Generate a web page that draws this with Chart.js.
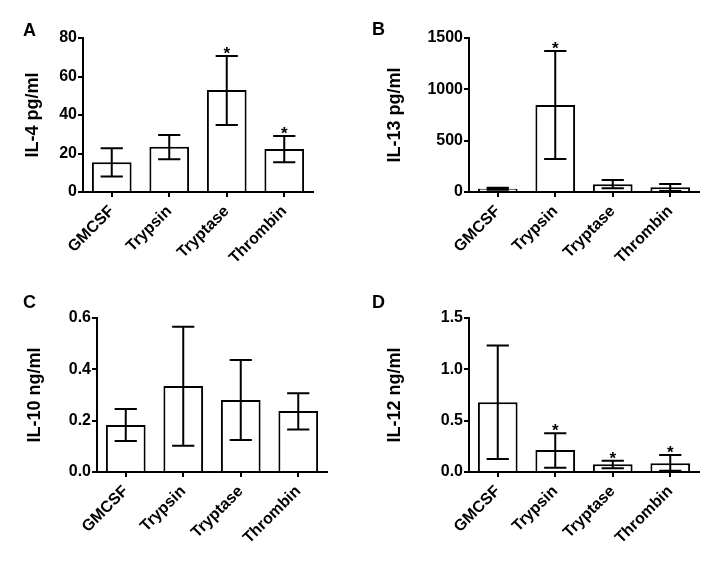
<!DOCTYPE html>
<html>
<head>
<meta charset="utf-8">
<script src="https://cdn.jsdelivr.net/npm/chart.js@4/dist/chart.umd.min.js"></script>
<style>
  html, body { margin: 0; padding: 0; background: #fff; }
  #wrap { position: relative; width: 718px; height: 567px; overflow: hidden; }
  #wrap canvas { position: absolute; }
  .tag { position: absolute; font: bold 18px "Liberation Sans", Arial, sans-serif; line-height: 18px; color: #000; }
</style>
</head>
<body>
<div id="wrap">
  <canvas id="chartA" width="359" height="283" style="left:0;top:0"></canvas>
  <canvas id="chartB" width="359" height="283" style="left:359px;top:0"></canvas>
  <canvas id="chartC" width="359" height="284" style="left:0;top:283px"></canvas>
  <canvas id="chartD" width="359" height="284" style="left:359px;top:283px"></canvas>
  <div class="tag" style="left:23px;top:21px">A</div>
  <div class="tag" style="left:372px;top:20px">B</div>
  <div class="tag" style="left:23px;top:293px">C</div>
  <div class="tag" style="left:372px;top:293px">D</div>
</div>
<script>
// data (mean, upper / lower error bar ends, significance)
const categories = ['GMCSF', 'Trypsin', 'Tryptase', 'Thrombin'];

const il4Mean  = [15.4, 23.5, 53.0, 22.3];
const il4Upper = [22.7, 29.6, 70.6, 29.1];
const il4Lower = [8.0, 17.0, 34.8, 15.4];
const il4Star  = [false, false, true, true];
const il4Ticks = [0, 20, 40, 60, 80];

const il13Mean  = [32, 847, 75, 46];
const il13Upper = [42, 1373, 117, 78];
const il13Lower = [22, 321, 36, 10];
const il13Star  = [false, true, false, false];
const il13Ticks = [0, 500, 1000, 1500];

const il10Mean  = [0.183, 0.335, 0.281, 0.238];
const il10Upper = [0.245, 0.566, 0.436, 0.307];
const il10Lower = [0.121, 0.102, 0.125, 0.166];
const il10Star  = [false, false, false, false];
const il10Ticks = [0, 0.2, 0.4, 0.6];

const il12Mean  = [0.679, 0.214, 0.075, 0.085];
const il12Upper = [1.233, 0.377, 0.110, 0.166];
const il12Lower = [0.127, 0.042, 0.036, 0.013];
const il12Star  = [false, true, true, true];
const il12Ticks = [0, 0.5, 1.0, 1.5];

const FONT = '"Liberation Sans", Arial, sans-serif';
Chart.defaults.font.family = FONT;
Chart.defaults.font.weight = 'bold';
Chart.defaults.color = '#000';

// error bars + asterisks on top of the bars
const errorBars = {
    id: 'errorBars',
    afterDatasetsDraw(chart, args, opts) {
        const ctx = chart.ctx;
        const x = chart.scales.x, y = chart.scales.y;
        const meta = chart.getDatasetMeta(0);
        ctx.save();
        ctx.strokeStyle = '#000';
        ctx.lineWidth = 2;
        meta.data.forEach((bar, i) => {
            const cx = x.getPixelForValue(i);
            const hi = y.getPixelForValue(opts.upper[i]);
            const lo = y.getPixelForValue(opts.lower[i]);
            const half = bar.width * 0.28;
            ctx.beginPath();
            ctx.moveTo(cx, lo); ctx.lineTo(cx, hi);
            ctx.moveTo(cx - half, hi); ctx.lineTo(cx + half, hi);
            ctx.moveTo(cx - half, lo); ctx.lineTo(cx + half, lo);
            ctx.stroke();
            if (opts.star[i]) {
                ctx.fillStyle = '#000';
                ctx.font = 'bold 17px ' + FONT;
                ctx.textAlign = 'center';
                ctx.textBaseline = 'alphabetic';
                ctx.fillText('*', cx, hi + 3);
            }
        });
        ctx.restore();
    }
};

function makeChart(id, cfg) {
    const canvas = document.getElementById(id);
    const H = canvas.height;
    return new Chart(canvas, {
        type: 'bar',
        data: {
            labels: categories,
            datasets: [{
                data: cfg.mean,
                backgroundColor: '#fff',
                borderColor: '#000',
                borderWidth: 2,
                barPercentage: 0.69,
                categoryPercentage: 1.0
            }]
        },
        options: {
            responsive: false,
            animation: false,
            layout: { padding: { left: cfg.padLeft, top: cfg.top, right: cfg.padRight, bottom: 0 } },
            plugins: {
                legend: { display: false },
                tooltip: { enabled: false },
                errorBars: { upper: cfg.upper, lower: cfg.lower, star: cfg.star }
            },
            scales: {
                x: {
                    grid: { offset: false, drawOnChartArea: false, tickLength: 5, color: '#000', lineWidth: 2 },
                    border: { color: '#000', width: 2 },
                    ticks: { minRotation: 45, maxRotation: 45, autoSkip: false, padding: 5, font: { size: 16, weight: 'bold' } },
                    afterFit: s => { s.height = H - cfg.bottom; }
                },
                y: {
                    min: 0,
                    max: cfg.ticks[cfg.ticks.length - 1],
                    afterBuildTicks: s => { s.ticks = cfg.ticks.map(v => ({ value: v })); },
                    grid: { drawOnChartArea: false, tickLength: 5, color: '#000', lineWidth: 2 },
                    border: { color: '#000', width: 2 },
                    ticks: {
                        padding: 1,
                        font: { size: 16, weight: 'bold' },
                        callback: v => cfg.decimals ? Number(v).toFixed(cfg.decimals) : String(v)
                    },
                    title: { display: true, text: cfg.title, font: { size: 18, weight: 'bold' }, padding: { top: 4, bottom: 4 } },
                    afterFit: s => { s.width = cfg.axisX - cfg.padLeft; }
                }
            }
        },
        plugins: [errorBars]
    });
}

makeChart('chartA', {
    mean: il4Mean, upper: il4Upper, lower: il4Lower, star: il4Star, ticks: il4Ticks,
    title: 'IL-4 pg/ml', decimals: 0,
    padLeft: 18, axisX: 83, padRight: 46, top: 38, bottom: 192
});
makeChart('chartB', {
    mean: il13Mean, upper: il13Upper, lower: il13Lower, star: il13Star, ticks: il13Ticks,
    title: 'IL-13 pg/ml', decimals: 0,
    padLeft: 21, axisX: 110, padRight: 19, top: 38, bottom: 192
});
makeChart('chartC', {
    mean: il10Mean, upper: il10Upper, lower: il10Lower, star: il10Star, ticks: il10Ticks,
    title: 'IL-10 ng/ml', decimals: 1,
    padLeft: 20, axisX: 97, padRight: 32, top: 35, bottom: 189
});
makeChart('chartD', {
    mean: il12Mean, upper: il12Upper, lower: il12Lower, star: il12Star, ticks: il12Ticks,
    title: 'IL-12 ng/ml', decimals: 1,
    padLeft: 21, axisX: 110, padRight: 19, top: 35, bottom: 189
});
</script>
</body>
</html>
